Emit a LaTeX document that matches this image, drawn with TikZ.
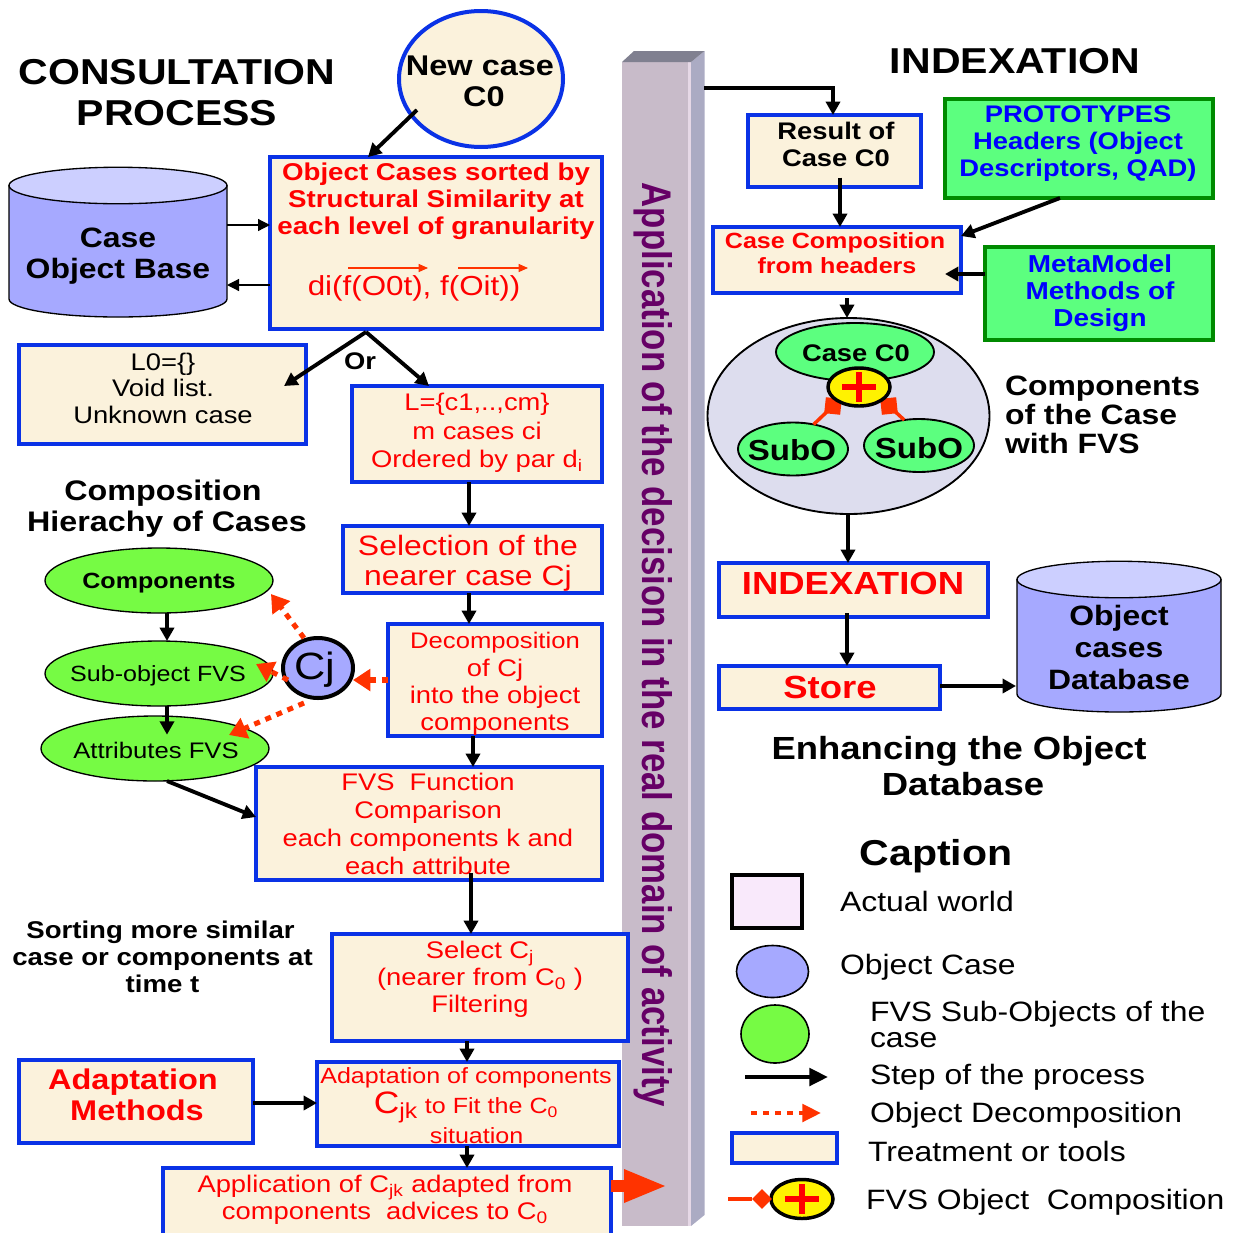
\documentclass[tikz,border=0pt]{standalone}
\usepackage{fontspec}
\setmainfont{Liberation Sans}[FakeStretch=1.14]
\usetikzlibrary{arrows.meta,calc,shapes.geometric}
\definecolor{cream}{HTML}{FBF2DC}
\definecolor{boxblue}{HTML}{0A32E6}
\definecolor{redt}{HTML}{FF0000}
\definecolor{org}{HTML}{FF3300}
\definecolor{lime}{HTML}{76FB44}
\definecolor{mint}{HTML}{5CFF7F}
\definecolor{dgreen}{HTML}{008A00}
\definecolor{peri}{HTML}{A6A9FF}
\definecolor{peril}{HTML}{CCCFFF}
\definecolor{pfront}{HTML}{C8BBC9}
\definecolor{pside}{HTML}{ABABC3}
\definecolor{ptop}{HTML}{808090}
\definecolor{pstripe}{HTML}{E6D8E6}
\definecolor{purp}{HTML}{660066}
\definecolor{pale}{HTML}{DDDDEE}
\definecolor{pink}{HTML}{F9E9FB}
\newcommand\fs[2]{\fontsize{\dimexpr #1pt*3/4\relax}{\dimexpr #2pt*3/4\relax}\selectfont}
\newcommand\bx[6][tbox]{\node[#1,minimum width={(#5-#3)*0.75pt},minimum height={(#6-#4)*0.75pt}] (#2) at ({(#3+#5)/2},{(#4+#6)/2}) {};}
\newcommand\el[6][]{\node[ellipse,draw=black,inner sep=0pt,outer sep=0pt,#1,minimum width={2*#5*0.75pt},minimum height={2*#6*0.75pt}] (#2) at (#3,#4) {};}
\newcommand\cyl[6]{% x0 x1 ytop ymid ybottom
\path[fill=peri,draw=black,line width=1pt] (#2,#4) -- (#2,#6-18) arc[start angle=180,end angle=360,x radius={(#3-#2)/2*0.75pt},y radius=13.5pt] -- (#3,#4) -- cycle;
\node[ellipse,draw=black,fill=peril,line width=1pt,inner sep=0pt,outer sep=0pt,minimum width={(#3-#2)*0.75pt},minimum height={(#5-#4+18)*0.75pt}] (#1) at ({(#2+#3)/2},#4) {};}
\tikzset{
 tbox/.style={draw=boxblue,line width=3.2pt,fill=cream,inner sep=0pt,outer sep=0pt},
 gbox/.style={draw=dgreen,line width=3.2pt,fill=mint,inner sep=0pt,outer sep=0pt},
 txt/.style={align=center,inner sep=0pt,outer sep=0pt},
 stp/.style={draw=black,line width=2.9pt,-{Triangle[length=10pt,width=10.5pt]}},
 thin arr/.style={draw=black,line width=0.9pt,-{Triangle[length=9pt,width=9pt]}},
 dec/.style={draw=org,line width=3.8pt,dash pattern=on 4.5pt off 4.5pt,-{Triangle[length=13pt,width=16pt,fill=org,sharp]}},
 vec/.style={draw=org,line width=0.8pt,-{Triangle[length=7pt,width=6pt]}},
 tab/.style={rectangle,fill=org,inner sep=0pt,outer sep=0pt,minimum size=12pt},
}
\begin{document}
\begin{tikzpicture}[x=0.75pt,y=-0.75pt]
\useasboundingbox (0,0) rectangle (1235,1232);
% pillar
\fill[pfront] (622,62) rectangle (691,1226);
\fill[pstripe] (688,62) rectangle (691,1226);
\fill[pside] (691,62) -- (704.5,51) -- (704.5,1215) -- (691,1226) -- cycle;
\fill[ptop] (622,62) -- (634,51) -- (704.5,51) -- (691,62) -- cycle;
\node[txt,text=purp,font=\bfseries\fs{36}{40},rotate=-90,yscale=1.15,xscale=0.848] (pillar) at (653,645) {Application of the decision in the real domain of activity};
% titles
\node[txt,font=\bfseries\fs{36}{41}] (t1) at (177,93) {CONSULTATION\\PROCESS};
\node[txt,font=\bfseries\fs{36}{40}] (t2) at (1015,61) {INDEXATION};
\node[txt,font=\bfseries\fs{28.3}{31}] (t3) at (167,509) {Composition\hspace*{6pt}\\Hierachy of Cases};
\node[txt,font=\bfseries\fs{24.2}{27}] (t4) at (162.5,957) {Sorting more similar\hspace*{3pt}\\case or components at\\time t};
\node[txt,font=\bfseries\fs{32}{36.5}] (t5) at (959,766) {Enhancing the Object\\\hspace*{6pt}Database};
\node[txt,font=\bfseries\fs{36}{40}] (t6) at (936,856) {Caption};
\node[txt,font=\bfseries\fs{28}{29},align=left,anchor=west] (t7) at (1005,415) {Components\\of the Case\\with FVS};
\node[txt,font=\bfseries\fs{24}{26}] (orl) at (360,361) {Or};
% new case
\el[draw=boxblue,line width=3pt,fill=cream]{new}{481}{79}{82}{68}
\node[txt,font=\bfseries\fs{28.5}{31}] (newt) at (480,81) {New case\\\hspace*{6pt}C0};
% boxes left
\bx{obj}{270}{157}{602}{329}
\node[txt,text=redt,font=\bfseries\fs{24.3}{27}] (objt) at (436,201) {Object Cases sorted by\\Structural Similarity at\\each level of granularity};
\node[txt,text=redt,font=\fs{27.5}{34}] (dit) at (414,288) {di(f(O0t), f(Oit))};
\coordinate (va) at (348,268); \coordinate (vb) at (428,268);
\coordinate (vc) at (458,268); \coordinate (vd) at (528,268);
\draw[vec] (va) -- (vb);
\draw[vec] (vc) -- (vd);
\bx{lz}{19}{345}{306}{444}
\node[txt,font=\fs{24}{26.5}] (lzt) at (163,388) {L0=\{\}\\Void list.\\Unknown case};
\bx{lc}{352}{386}{602}{482}
\node[txt,text=redt,font=\fs{24}{28.5}] (lct) at (477,433) {L=\{c1,..,cm\}\\m cases ci\\Ordered by par d\textsubscript{i}};
\bx{sel}{343}{526}{602}{593}
\node[txt,text=redt,font=\fs{28}{30}] (selt) at (468,563) {Selection of the\\nearer case Cj};
\bx{dcp}{388}{624}{602}{736}
\node[txt,text=redt,font=\fs{24}{27.3}] (dcpt) at (495,684) {{\fs{22.5}{27.3}Decomposition}\\of Cj\\into the object\\components};
\bx{fvs}{256}{767}{602}{880}
\node[txt,text=redt,font=\fs{24}{28}] (fvst) at (428,824) {FVS\ \ Function\\Comparison\\each components k and\\each attribute};
\bx{sct}{332}{934}{628}{1041}
\node[txt,text=redt,font=\fs{24}{27}] (sctt) at (480,979) {Select C\textsubscript{j}\\(nearer from C\textsubscript{0} )\\Filtering};
\bx{adp}{317}{1062}{619}{1146}
\node[txt,text=redt,font=\fs{22}{30}] (adpt) at (466,1106) {Adaptation of components\\{\fs{31}{30}C\textsubscript{jk}} to Fit the C\textsubscript{0}\\\hspace*{16pt}situation};
\bx{mth}{19}{1060}{253}{1143}
\node[txt,text=redt,font=\bfseries\fs{28.5}{31}] (mtht) at (133,1095) {Adaptation\\\hspace*{6pt}Methods};
\bx{app}{163}{1168}{611}{1240}
\node[txt,text=redt,font=\fs{24}{27}] (appt) at (385,1199.5) {Application of C\textsubscript{jk} adapted from\\components\ \ advices to C\textsubscript{0}};
% right boxes
\bx{res}{748}{115}{921}{187}
\node[txt,font=\bfseries\fs{24}{27}] (rest) at (836,144.5) {Result of\\Case C0};
\bx{cmp}{713}{227}{961}{293}
\node[txt,text=redt,font=\bfseries\fs{22}{25}] (cmpt) at (835,253.5) {Case Composition\\\hspace*{3pt}from headers};
\bx[gbox]{pro}{945}{99}{1213}{198}
\node[txt,text=blue,font=\bfseries\fs{24}{27}] (prot) at (1078,144) {PROTOTYPES\\Headers (Object\\Descriptors, QAD)};
\bx[gbox]{met}{985}{247}{1213}{340}
\node[txt,text=blue,font=\bfseries\fs{24.5}{27}] (mett) at (1100,293) {MetaModel\\Methods of\\Design};
\bx{ixb}{719}{563}{988}{617}
\node[txt,text=redt,font=\bfseries\fs{32}{36}] (ixt) at (853,583) {INDEXATION};
\bx{sto}{719}{666}{940}{709}
\node[txt,text=redt,font=\bfseries\fs{32}{36}] (stot) at (830,687) {Store};
% cylinders
\cyl{cb}{9}{227}{185.5}{204}{317}
\node[txt,font=\bfseries\fs{28}{31}] (cbt) at (118,256) {Case\\Object Base};
\cyl{db}{1017}{1221}{579.5}{598}{712}
\node[txt,font=\bfseries\fs{28}{32}] (dbt) at (1119,647) {Object\\cases\\Database};
% big ellipse
\el[fill=pale,line width=1.4pt]{big}{848.5}{416}{141}{98}
\el[fill=mint,line width=1.4pt]{cc}{855}{352}{79}{29}
\node[txt,font=\bfseries\fs{24}{26}] (cct) at (856,353) {Case C0};
\el[fill=mint,line width=1.4pt]{s1}{793}{449}{55}{26.5}
\node[txt,font=\bfseries\fs{29}{32}] (s1t) at (792,450) {SubO};
\el[fill=mint,line width=1.4pt]{s2}{919}{445.5}{55}{26.5}
\node[txt,font=\bfseries\fs{29}{32}] (s2t) at (919,448) {SubO};
\node[tab,rotate=-6] (d1) at (833,406) {};
\node[tab,rotate=6] (d2) at (889,406) {};
\draw[org,line width=2.6pt] (s1.50) -- (d1.center);
\draw[org,line width=2.6pt] (s2.120) -- (d2.center);
\el[fill=yellow,line width=2.6pt]{pl}{859}{387}{31}{19}
\draw[redt,line width=3.8pt] (pl.center) +(-17,0) -- +(17,0) (pl.center) +(0,-15) -- +(0,15);
% left ellipses
\el[fill=lime,line width=1pt]{e1}{159}{580.5}{114}{32.5}
\node[txt,font=\bfseries\fs{22}{24}] (e1t) at (159,583) {Components};
\el[fill=lime,line width=1pt]{e2}{159}{673.5}{114}{32.5}
\node[txt,font=\fs{22}{24}] (e2t) at (158,676) {Sub-object FVS};
\el[fill=lime,line width=1pt]{e3}{155}{748.5}{114}{32.5}
\node[txt,font=\fs{22.5}{24}] (e3t) at (156,750) {Attributes FVS};
\el[fill=peri,line width=3pt]{cj}{318}{668}{35}{30}
\node[txt,font=\fs{38}{40}] (cjt) at (315,670) {Cj};
% connectors
\draw[stp] ([shift={(-64,31)}]new.center) -- ([shift={(-68,0)}]obj.north);
\draw[stp] ([shift={(-70,3)}]obj.south) -- ([shift={(-22,41)}]lz.north east);
\draw[stp] ([shift={(-70,3)}]obj.south) -- ([shift={(-48,0)}]lc.north);
\draw[stp] (lc.south -| 469,0) -- (sel.north -| 469,0);
\draw[stp] (sel.south -| 469,0) -- (dcp.north -| 469,0);
\draw[stp] (dcp.south -| 473,0) -- (fvs.north -| 473,0);
\draw[stp] ([yshift=5pt]fvs.south -| 471,0) -- (sct.north -| 471,0);
\draw[stp] (sct.south -| 467,0) -- (adp.north -| 467,0);
\draw[stp] (adp.south -| 467,0) -- (app.north -| 467,0);
\draw[stp] (mth.east |- 0,1103) -- (adp.west |- 0,1103);
\draw[stp] (e1.south -| 167,0) -- (e2.north -| 167,0);
\draw[stp] (e2.south -| 167,0) -- ([yshift=-14pt]e3.north -| 167,0);
\draw[stp] (e3.south -| 167,0) -- (fvs.west |- 0,817);
\coordinate (pa) at (704,88);
\draw[stp] (pa) -| (res.north -| 833,0);
\draw[stp] ([yshift=7pt]res.south -| 840,0) -- (cmp.north -| 840,0);
\draw[stp] (pro.south -| 1060,0) -- (cmp.east |- 0,236);
\draw[stp] (met.west |- 0,274) -- (945,274);
\draw[stp] (847,298) -- (big.north -| 847,0);
\draw[stp] (big.south -| 848,0) -- (ixb.north -| 848,0);
\draw[stp] ([yshift=3pt]ixb.south -| 847,0) -- (sto.north -| 847,0);
\draw[stp] (sto.east |- 0,686) -- (1016,686);
\draw[thin arr] (cb.east |- 0,225) -- (obj.west |- 0,225);
\draw[thin arr] (obj.west |- 0,285) -- (cb.east |- 0,285);
\draw[dec] ([shift={(-14,-30)}]cj.center) -- (271,594);
\draw[dec] ([shift={(-30,12)}]cj.center) -- (256,664);
\draw[dec] ([shift={(-14,35)}]cj.center) -- (229,735);
\draw[dec] (dcp.west |- 0,680) -- ([shift={(35,12)}]cj.center);
% application big arrow
\coordinate (ap1) at (665,1186);
\fill[org] (app.east |- 0,1180) rectangle (626,1192);
\fill[org] (624,1169) -- (ap1) -- (624,1203) -- cycle;
% caption
\bx[draw=black,line width=3pt,fill=pink,inner sep=0pt,outer sep=0pt]{k1}{732}{875}{802}{928}
\el[fill=peri,line width=1.2pt]{k2}{772.5}{971.5}{36}{26}
\el[fill=lime,line width=1.2pt]{k3}{775}{1034}{34}{29}
\coordinate (k4a) at (745,1077); \coordinate (k4b) at (828,1077);
\draw[draw=black,line width=3.2pt,-{Triangle[length=14pt,width=13pt]}] (k4a) -- (k4b);
\coordinate (k5a) at (751,1113); \coordinate (k5b) at (821,1113);
\draw[draw=org,line width=3.2pt,dash pattern=on 4.5pt off 4.5pt,-{Triangle[length=14pt,width=13pt,fill=org]}] (k5a) -- (k5b);
\bx{k6}{732}{1133}{837}{1163}
\coordinate (k7a) at (728,1199);
\el[fill=yellow,line width=2.6pt]{k7}{802}{1199}{31}{19.5}
\node[diamond,aspect=1,fill=org,inner sep=0pt,minimum size=15pt] (k7d) at (762,1199) {};
\draw[org,line width=2.6pt] (k7a) -- (k7d);
\draw[redt,line width=3.8pt] (k7.center) +(-17,0) -- +(17,0) (k7.center) +(0,-15) -- +(0,15);
\tikzset{leg/.style={txt,anchor=west,align=left,font=\fs{28}{26}}}
\node[leg] (l1) at (840,901) {Actual world};
\node[leg] (l2) at (840,967) {Object Case};
\node[leg] (l3) at (870,1024) {FVS Sub-Objects of the\\case};
\node[leg] (l4) at (870,1077) {Step of the process};
\node[leg] (l5) at (870,1115) {Object Decomposition};
\node[leg] (l6) at (868,1151) {Treatment or tools};
\node[leg] (l7) at (866,1202) {FVS Object\ \ Composition};
\end{tikzpicture}
\end{document}
